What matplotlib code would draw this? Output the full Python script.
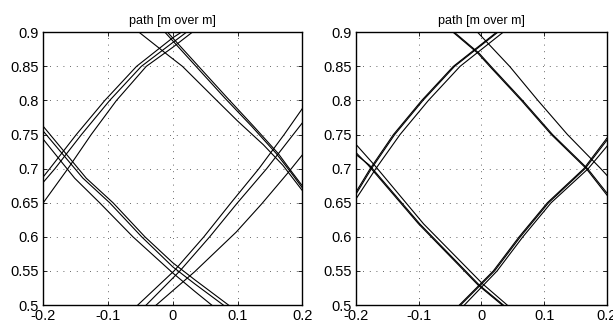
import matplotlib
matplotlib.use("Agg")
import matplotlib.pyplot as plt

plt.rcParams['font.family'] = ['Liberation Sans', 'DejaVu Sans']

TITLE = "path [m over m]"
XTICKS = [-0.2, -0.1, 0, 0.1, 0.2]
XTICK_LABELS = ["-0.2", "-0.1", "0", "0.1", "0.2"]
YTICKS = [0.5, 0.55, 0.6, 0.65, 0.7, 0.75, 0.8, 0.85, 0.9]
YTICK_LABELS = ["0.5", "0.55", "0.6", "0.65", "0.7", "0.75", "0.8", "0.85", "0.9"]

# ---- left panel: rising lines, upper left
L_A1_X = [-0.2, -0.190, -0.149, -0.105, -0.056, 0.0, 0.013]
L_A1_Y = [0.688, 0.7, 0.75, 0.8, 0.85, 0.892, 0.9]
L_A2_X = [-0.2, -0.182, -0.141, -0.0975, -0.0486, 0.0, 0.021]
L_A2_Y = [0.68, 0.7, 0.75, 0.8, 0.85, 0.885, 0.9]
L_A3_X = [-0.2, -0.162, -0.126, -0.087, -0.041, 0.0, 0.03]
L_A3_Y = [0.65, 0.7, 0.75, 0.8, 0.85, 0.878, 0.9]
# descending lines, top to right edge
L_B1_X = [-0.052, -0.004, 0.015, 0.068, 0.100, 0.140, 0.170, 0.2]
L_B1_Y = [0.9, 0.864, 0.85, 0.8, 0.77, 0.735, 0.705, 0.668]
L_B2_X = [-0.012, 0.034, 0.080, 0.122, 0.160, 0.182, 0.2]
L_B2_Y = [0.9, 0.852, 0.804, 0.762, 0.722, 0.695, 0.672]
L_B3_X = [-0.008, 0.038, 0.084, 0.125, 0.163, 0.184, 0.2]
L_B3_Y = [0.9, 0.852, 0.804, 0.762, 0.722, 0.695, 0.675]
# descending lines, left edge to bottom
L_C1_X = [-0.2, -0.1515, -0.113, -0.0615, 0.0, 0.034, 0.060]
L_C1_Y = [0.743, 0.686, 0.65, 0.6, 0.547, 0.52, 0.5]
L_C2_X = [-0.2, -0.1387, -0.0975, -0.048, 0.0, 0.034, 0.078]
L_C2_Y = [0.755, 0.686, 0.65, 0.6, 0.556, 0.531, 0.5]
L_C3_X = [-0.2, -0.1336, -0.0923, -0.043, 0.0, 0.034, 0.086]
L_C3_Y = [0.762, 0.686, 0.65, 0.6, 0.562, 0.537, 0.5]
# rising lines, bottom to right edge
L_D1_X = [-0.054, 0.002, 0.048, 0.090, 0.133, 0.172, 0.2]
L_D1_Y = [0.5, 0.55, 0.6, 0.65, 0.7, 0.75, 0.788]
L_D2_X = [-0.041, 0.011, 0.057, 0.100, 0.145, 0.186, 0.2]
L_D2_Y = [0.5, 0.55, 0.6, 0.65, 0.7, 0.75, 0.767]
L_D3_X = [-0.0255, 0.034, 0.098, 0.137, 0.178, 0.2]
L_D3_Y = [0.5, 0.549, 0.607, 0.648, 0.694, 0.72]

# ---- right panel
R_A1_X = [-0.2, -0.177, -0.140, -0.095, -0.0447, 0.024]
R_A1_Y = [0.665, 0.7, 0.75, 0.8, 0.85, 0.9]
R_A2_X = [-0.2, -0.175, -0.138, -0.093, -0.0427, 0.026]
R_A2_Y = [0.662, 0.7, 0.75, 0.8, 0.85, 0.9]
R_A3_X = [-0.2, -0.168, -0.1295, -0.0844, -0.034, 0.0345]
R_A3_Y = [0.655, 0.7, 0.75, 0.8, 0.85, 0.9]

R_B1_X = [-0.045, -0.0053, 0.0133, 0.0636, 0.1113, 0.167, 0.2]
R_B1_Y = [0.9, 0.869, 0.85, 0.8, 0.75, 0.7, 0.661]
R_B2_X = [-0.043, -0.0033, 0.0153, 0.0656, 0.1133, 0.169, 0.2]
R_B2_Y = [0.9, 0.869, 0.85, 0.8, 0.75, 0.7, 0.664]
R_B3_X = [-0.006, 0.045, 0.090, 0.137, 0.19, 0.2]
R_B3_Y = [0.9, 0.85, 0.8, 0.75, 0.7, 0.69]

R_C1_X = [-0.2, -0.180, -0.100, -0.005, 0.033]
R_C1_Y = [0.724, 0.705, 0.619, 0.529, 0.5]
R_C2_X = [-0.2, -0.178, -0.098, -0.003, 0.035]
R_C2_Y = [0.721, 0.705, 0.619, 0.529, 0.5]
R_C3_X = [-0.2, -0.170, -0.092, 0.002, 0.041]
R_C3_Y = [0.736, 0.705, 0.619, 0.531, 0.5]

R_D1_X = [-0.035, 0.019, 0.06, 0.105, 0.163, 0.2]
R_D1_Y = [0.5, 0.55, 0.6, 0.65, 0.7, 0.745]
R_D2_X = [-0.033, 0.021, 0.062, 0.107, 0.165, 0.2]
R_D2_Y = [0.5, 0.55, 0.6, 0.65, 0.7, 0.742]
R_D3_X = [-0.027, 0.025, 0.066, 0.111, 0.17, 0.2]
R_D3_Y = [0.5, 0.55, 0.6, 0.65, 0.7, 0.733]

LEFT_TRACES = [(L_A1_X, L_A1_Y), (L_A2_X, L_A2_Y), (L_A3_X, L_A3_Y),
               (L_B1_X, L_B1_Y), (L_B2_X, L_B2_Y), (L_B3_X, L_B3_Y),
               (L_C1_X, L_C1_Y), (L_C2_X, L_C2_Y), (L_C3_X, L_C3_Y),
               (L_D1_X, L_D1_Y), (L_D2_X, L_D2_Y), (L_D3_X, L_D3_Y)]
RIGHT_TRACES = [(R_A1_X, R_A1_Y), (R_A2_X, R_A2_Y), (R_A3_X, R_A3_Y),
                (R_B1_X, R_B1_Y), (R_B2_X, R_B2_Y), (R_B3_X, R_B3_Y),
                (R_C1_X, R_C1_Y), (R_C2_X, R_C2_Y), (R_C3_X, R_C3_Y),
                (R_D1_X, R_D1_Y), (R_D2_X, R_D2_Y), (R_D3_X, R_D3_Y)]

fig = plt.figure(figsize=(6.13, 3.24), dpi=100)
ax1 = fig.add_axes([0.0706, 0.0586, 0.4225, 0.8417])
ax2 = fig.add_axes([0.5803, 0.0586, 0.4100, 0.8417])


def style(ax):
    ax.set_xlim(-0.2, 0.2)
    ax.set_ylim(0.5, 0.9)
    ax.set_xticks(XTICKS)
    ax.set_xticklabels(XTICK_LABELS)
    ax.set_yticks(YTICKS)
    ax.set_yticklabels(YTICK_LABELS)
    ax.tick_params(direction="in", length=3, width=0.6, top=True, right=True,
                   labelsize=10.5, pad=3, colors="black")
    ax.grid(True, color="0.2", linestyle=(0, (1, 7)), linewidth=0.6)
    for s in ax.spines.values():
        s.set_linewidth(1.0)
        s.set_color("black")
    ax.set_title(TITLE, fontsize=9, pad=6)


for ax, traces in [(ax1, LEFT_TRACES), (ax2, RIGHT_TRACES)]:
    for xs, ys in traces:
        ax.plot(xs, ys, color="black", linewidth=0.8, clip_on=True)
    style(ax)

fig.savefig("out.png", dpi=100)
